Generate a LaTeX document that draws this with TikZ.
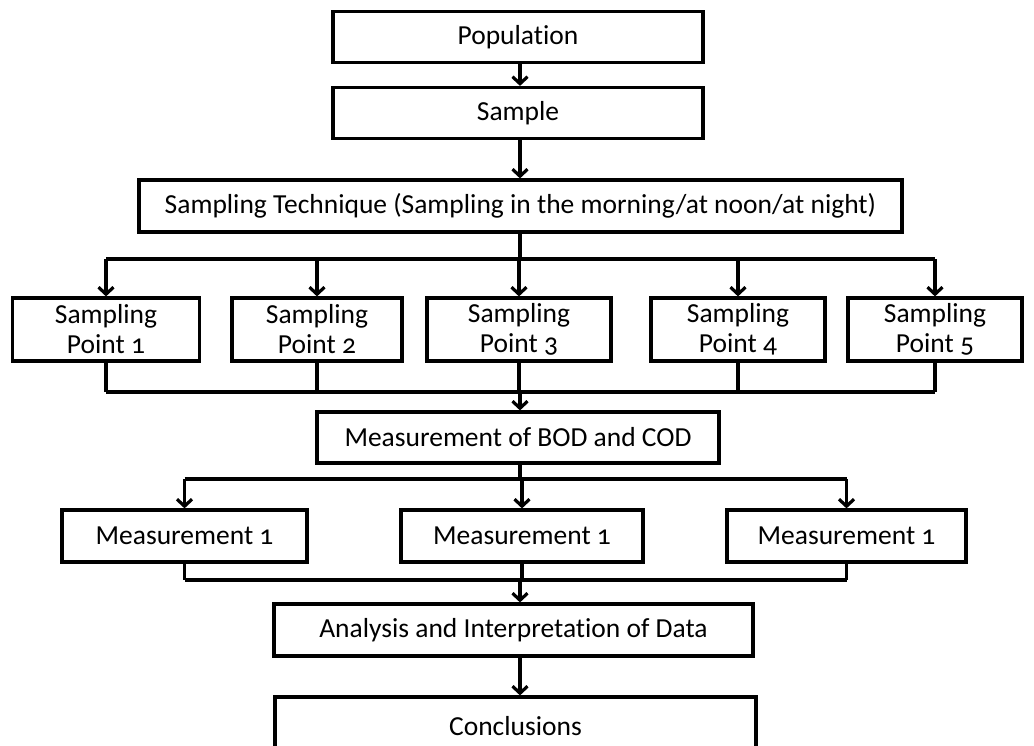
\documentclass[tikz,border=0pt]{standalone}
\usepackage{fontspec}
\setmainfont[Numbers=OldStyle,Ligatures=NoCommon]{Carlito}
\usetikzlibrary{arrows.meta}
\begin{document}
\begin{tikzpicture}[x=1pt,y=-1pt,
  box/.style={draw=black,line width=3.2pt,minimum height=#1,inner sep=0pt,align=center,font=\fontsize{27.5}{30}\selectfont},
  box/.default=51pt,
  wire/.style={line width=3.2pt},
  arr/.style={line width=3.2pt,-{Straight Barb[length=7pt,width=15pt,line width=3.2pt]}}]
\clip (0,0) rectangle (1034,745);
\fill[white] (0,0) rectangle (1034,745);
\coordinate (t) at (520,0);
% nodes
\node[box,minimum width=370pt] (pop) at (518,37) {Population};
\node[box,minimum width=370pt] (sample) at (518,113) {Sample};
\node[box=52pt,minimum width=763pt] (tech) at (520.5,206) {Sampling Technique (Sampling in the morning/at noon/at night)};
\node[box=63pt,minimum width=187pt] (sp1) at (106,329.5) {Sampling\\Point 1};
\node[box=63pt,minimum width=170pt] (sp2) at (317,329.5) {Sampling\\Point 2};
\node[box=63pt,minimum width=184pt] (sp3) at (519,329.5) {Sampling\\Point 3};
\node[box=63pt,minimum width=174pt] (sp4) at (738,329.5) {Sampling\\Point 4};
\node[box=63pt,minimum width=174pt] (sp5) at (935,329.5) {Sampling\\Point 5};
\node[box,minimum width=402pt] (bod) at (518,437.5) {Measurement of BOD and COD};
\node[box=52pt,minimum width=245pt] (m1) at (184.5,536) {Measurement 1};
\node[box=52pt,minimum width=242pt] (m2) at (522,536) {Measurement 1};
\node[box=52pt,minimum width=239pt] (m3) at (846.5,536) {Measurement 1};
\node[box=52pt,minimum width=479pt] (ana) at (513.5,630) {Analysis and Interpretation of Data};
\node[box=58pt,minimum width=481pt] (conc) at (515.5,726) {Conclusions};
% bus coordinates
\coordinate (b1) at (520,259);
\coordinate (b2) at (520,392);
\coordinate (b3) at (520,479);
\coordinate (b4) at (520,580);
% connectors
\draw[arr] (pop.south -| t) -- (sample.north -| t);
\draw[arr] (sample.south -| t) -- (tech.north -| t);
\draw[wire] (tech.south -| t) -- (b1);
\draw[wire] (b1 -| sp1) -- (b1 -| sp5);
\foreach \n in {sp1,sp2,sp3,sp4,sp5}{
  \draw[arr] (b1 -| \n) -- (\n.north);
  \draw[wire] (\n.south) -- (b2 -| \n);
}
\draw[wire] (b2 -| sp1) -- (b2 -| sp5);
\draw[arr] (b2) -- (bod.north -| t);
\draw[wire] (bod.south -| t) -- (b3);
\draw[wire] (b3 -| m1) -- (b3 -| m3);
\foreach \n in {m1,m2,m3}{
  \draw[arr] (b3 -| \n) -- (\n.north);
  \draw[wire] (\n.south) -- (b4 -| \n);
}
\draw[wire] (b4 -| m1) -- (b4 -| m3);
\draw[arr] (b4) -- (ana.north -| t);
\draw[arr] (ana.south -| t) -- (conc.north -| t);
\end{tikzpicture}
\end{document}
